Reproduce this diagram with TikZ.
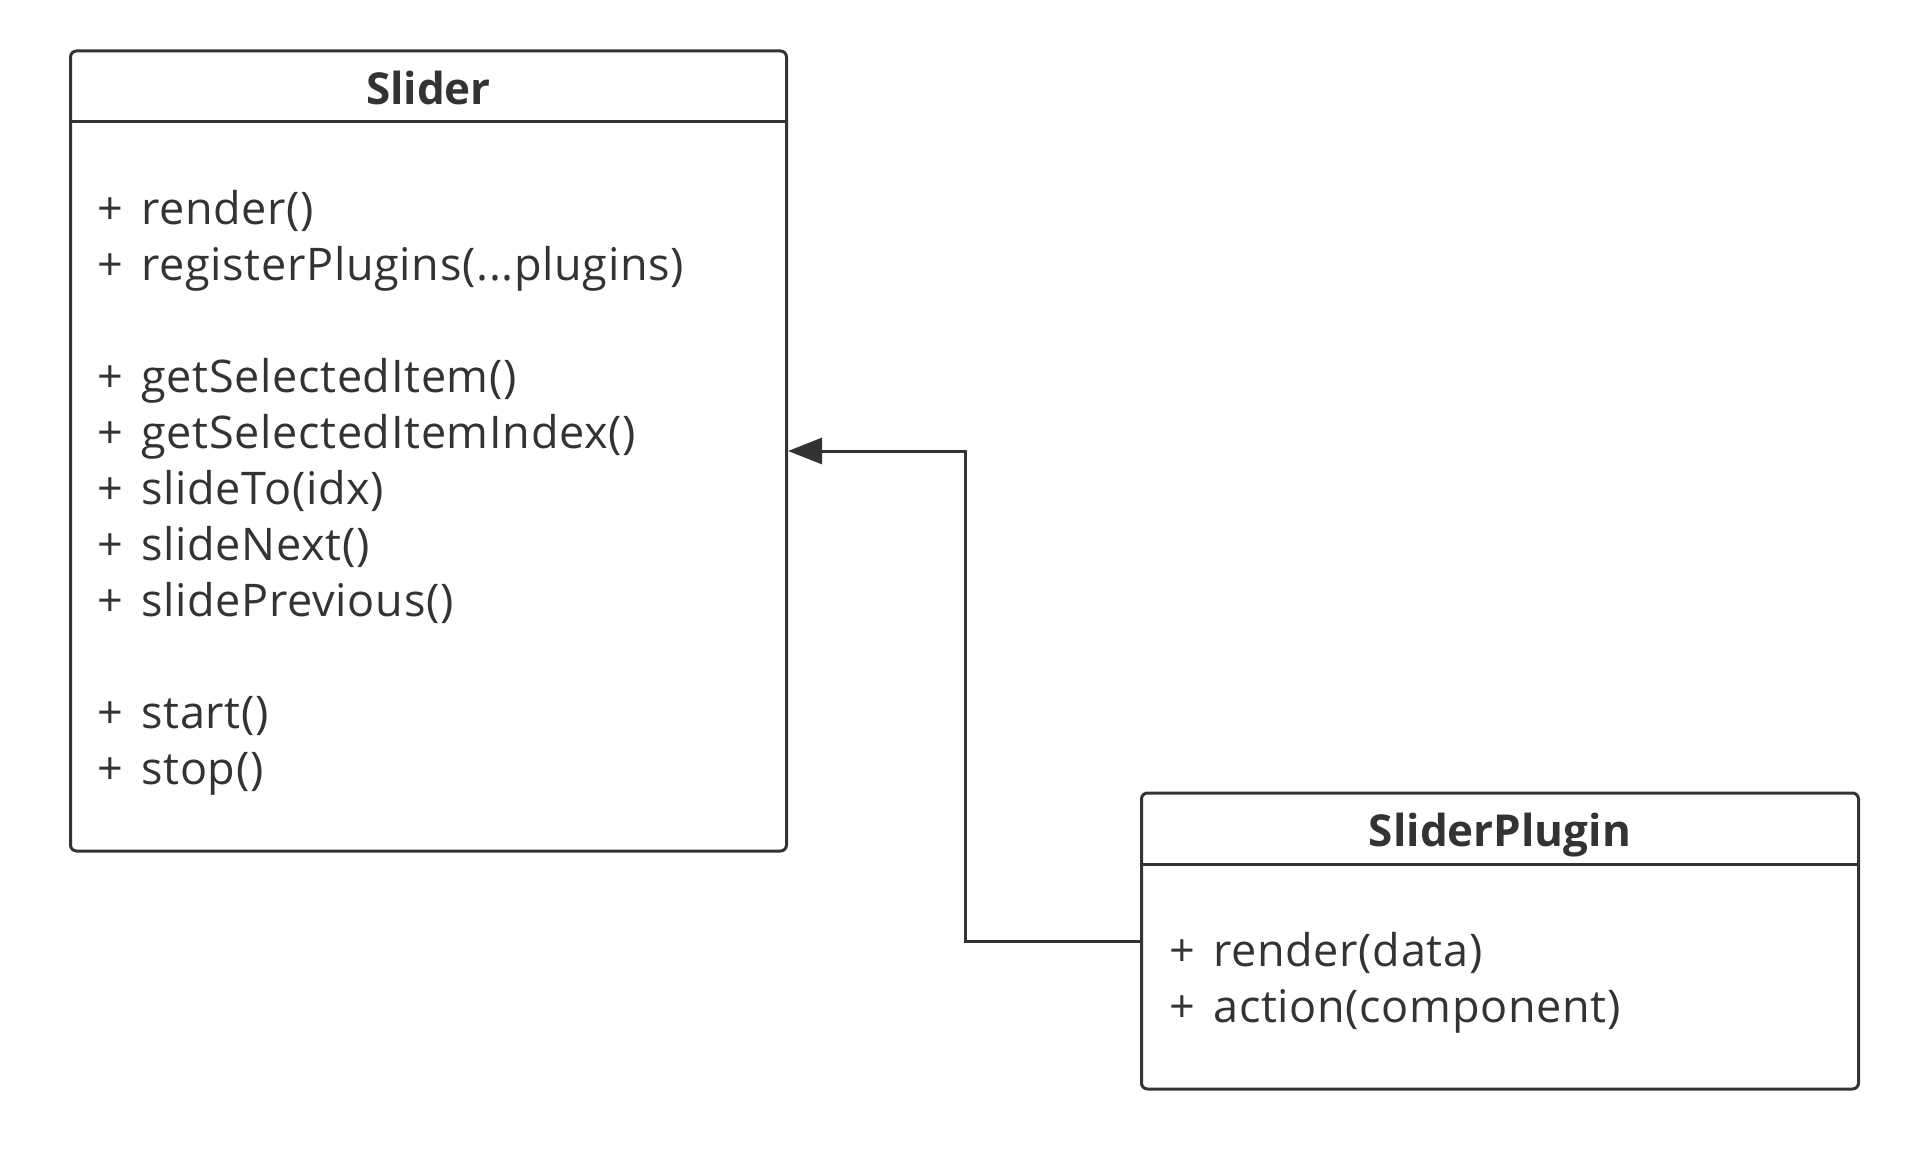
\documentclass[tikz,border=0pt]{standalone}
\usepackage{fontspec}
\setmainfont{Open Sans}
\usetikzlibrary{arrows.meta}
\definecolor{ink}{HTML}{333333}
\newcommand{\pl}{+\hspace{6pt} }
\begin{document}
\begin{tikzpicture}[x=1pt,y=-1pt,
  classbox/.style={draw=ink, line width=3pt, rounded corners=6pt, inner sep=0pt},
  titletext/.style={font=\fontsize{44}{52}\selectfont\bfseries, text=ink},
  optext/.style={font=\fontsize{45}{54}\selectfont\addfontfeatures{LetterSpace=1.5}, text=ink, anchor=mid west, inner sep=0pt},
  sep/.style={draw=ink, line width=3pt},
  arr/.style={draw=ink, line width=3pt, -{Triangle[length=34pt,width=26pt]}}]
\useasboundingbox (0,0) rectangle (1906,1150);
% Slider
\node[classbox, minimum width=716pt, minimum height=800pt] (slider) at (428.5,451) {};
\draw[sep] ([yshift=-72pt]slider.north west) -- ([yshift=-72pt]slider.north east);
\node[titletext] (slidertitle) at (428.5,88) {Slider};
\node[optext] (s1) at (97,222) {\pl render()};
\node[optext] (s2) at (97,278) {\pl registerPlugins(...plugins)};
\node[optext] (s3) at (97,390) {\pl getSelectedItem()};
\node[optext] (s4) at (97,446) {\pl getSelectedItemIndex()};
\node[optext] (s5) at (97,502) {\pl slideTo(idx)};
\node[optext] (s6) at (97,558) {\pl slideNext()};
\node[optext] (s7) at (97,614) {\pl slidePrevious()};
\node[optext] (s8) at (97,726) {\pl start()};
\node[optext] (s9) at (97,782) {\pl stop()};
% SliderPlugin
\node[classbox, minimum width=717pt, minimum height=296pt] (plugin) at (1500,941) {};
\draw[sep] ([yshift=-73pt]plugin.north west) -- ([yshift=-73pt]plugin.north east);
\node[titletext] (plugintitle) at (1500,835) {SliderPlugin};
\node[optext] (p1) at (1169,964) {\pl render(data)};
\node[optext] (p2) at (1169,1020) {\pl action(component)};
% connector
\coordinate (bend) at (965,451);
\draw[arr] (plugin.west) -| (bend) -- (slider.east);
\end{tikzpicture}
\end{document}
